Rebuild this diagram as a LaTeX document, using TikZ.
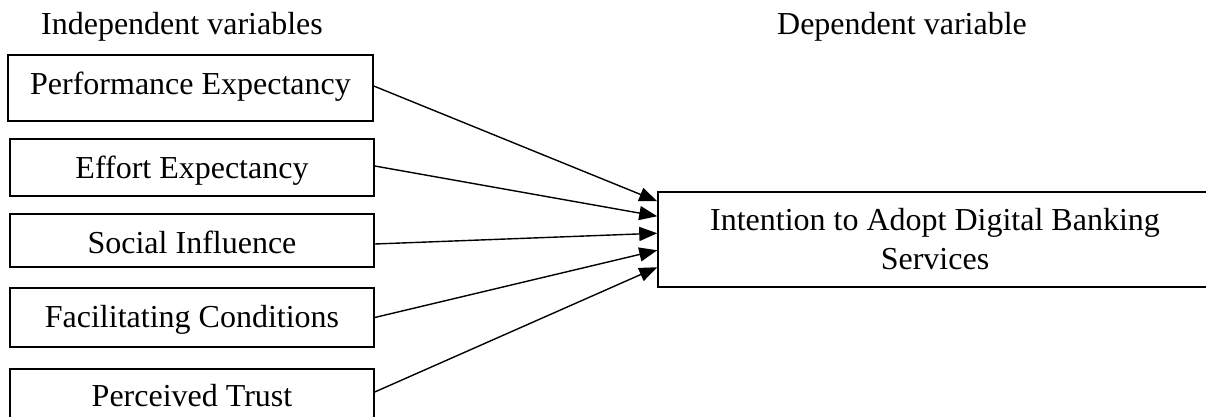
\documentclass[tikz,border=0pt]{standalone}
\usepackage{fontspec}
\setmainfont{Liberation Serif}
\usetikzlibrary{arrows.meta}
\begin{document}
\begin{tikzpicture}[x=1pt,y=1pt,
  every node/.style={font=\fontsize{32}{39}\selectfont, inner sep=0pt},
  ivbox/.style={draw, line width=1.5pt, minimum width=364pt, text depth=5pt},
  dvbox/.style={draw, line width=1.5pt, minimum width=554pt, minimum height=95pt, align=center},
  conn/.style={line width=1.4pt, -{Triangle[length=18pt,width=14pt]}},
  heading/.style={anchor=base}
]
\useasboundingbox (0,0) rectangle (1206,416);
\clip (0,0) rectangle (1206,416);

\node[heading] (hi) at (182,381) {Independent variables};
\node[heading] (hd) at (902,381) {Dependent variable};

\node[ivbox, minimum width=365pt, minimum height=66pt, text height=17pt] (pe) at (190.5,328) {Performance Expectancy};
\node[ivbox, minimum height=57pt, text height=26pt] (ee) at (192,248.5) {Effort Expectancy};
\node[ivbox, minimum height=53pt, text height=30pt] (si) at (192,175.5) {Social Influence};
\node[ivbox, minimum height=59pt, text height=24pt] (fc) at (192,98.5) {Facilitating Conditions};
\node[ivbox, minimum height=56pt, text height=23pt] (pt) at (192,19) {Perceived Trust};

\node[dvbox] (ia) at (935,176.5) {Intention to Adopt Digital Banking\\Services};

\draw[conn] ([yshift=2pt]pe.east) -- ([yshift=-10pt]ia.north west);
\draw[conn] ([yshift=1.5pt]ee.east) -- ([yshift=-25pt]ia.north west);
\draw[conn] ([yshift=-3.5pt]si.east) -- ([yshift=-42pt]ia.north west);
\draw[conn] (fc.east) -- ([yshift=-59pt]ia.north west);
\draw[conn] ([yshift=5pt]pt.east) -- ([yshift=-76pt]ia.north west);
\end{tikzpicture}
\end{document}
